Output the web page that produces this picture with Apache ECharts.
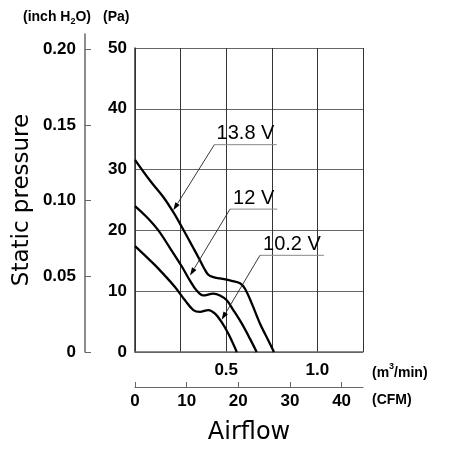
<!DOCTYPE html>
<html><head><meta charset="utf-8">
<script src="https://cdn.jsdelivr.net/npm/echarts@6/dist/echarts.min.js"></script>
<style>html,body{margin:0;padding:0;background:#fff}#c{width:451px;height:450px}</style>
</head><body><div id="c"></div>
<script>
// ---- data (airflow in m3/min, static pressure in Pa) ----
const flow138 = [0, 0.082, 0.155, 0.210, 0.256, 0.311, 0.356, 0.380, 0.402, 0.430, 0.466, 0.530, 0.576, 0.603, 0.640, 0.685, 0.731, 0.762];
const pres138 = [31.6, 28.2, 25.5, 23.0, 20.6, 17.6, 15.1, 13.7, 12.7, 12.3, 12.1, 11.7, 11.3, 10.4, 8.0, 4.7, 1.9, 0];
const flow120 = [0, 0.064, 0.128, 0.192, 0.256, 0.302, 0.338, 0.374, 0.429, 0.466, 0.503, 0.539, 0.585, 0.630, 0.667];
const pres120 = [24.0, 22.2, 20.0, 17.1, 14.1, 11.7, 10.1, 9.3, 9.6, 9.3, 8.5, 6.9, 4.7, 2.2, 0];
const flow102 = [0, 0.064, 0.119, 0.219, 0.274, 0.320, 0.356, 0.402, 0.439, 0.475, 0.512, 0.558];
const pres102 = [17.4, 15.6, 14.0, 10.7, 8.5, 6.9, 6.6, 6.9, 6.3, 4.9, 3.0, 0];

const seriesNames = ['13.8 V', '12 V', '10.2 V'];
// annotation: arrow tip on curve [flow, Pa], underline [flowStart, flowEnd, Pa]
const annTip = [[0.210, 23.3], [0.302, 12.6], [0.475, 5.3]];
const annUnderline = [[0.435, 0.777, 34.1], [0.521, 0.780, 23.5], [0.685, 1.036, 15.9]];

const m3Ticks = [0.5, 1.0];
const cfmTicks = [0, 10, 20, 30, 40];
const paTicks = [0, 10, 20, 30, 40, 50];
const inchTicks = [0, 0.05, 0.10, 0.15, 0.20];

const M3_TO_CFM = 35.3147;
const PA_PER_INCH = 249.089;

// ---- layout ----
const G = {left: 135, top: 48, width: 228, height: 304};
const inchTop = 34;
const inchMax = (G.top + G.height - inchTop) / G.height * 50 / PA_PER_INCH;

const tickFont = {fontFamily: "'Liberation Sans', Arial, sans-serif", fontWeight: 'bold', fontSize: 17, color: '#000'};
const gridCol = '#666';
const unitFont = "bold 14px 'Liberation Sans', Arial, sans-serif";

function zip(a, b) { return a.map((v, i) => [v, b[i]]); }

const lineStyle = {color: '#000', width: 2.3};

const chart = echarts.init(document.getElementById('c'), null, {renderer: 'canvas'});
chart.setOption({
  animation: false,
  backgroundColor: '#fff',
  grid: [
    {left: G.left, top: G.top, width: G.width, height: G.height},
    {left: 85, top: inchTop, width: 10, height: G.top + G.height - inchTop}
  ],
  xAxis: [
    {
      type: 'value', gridIndex: 0, min: 0, max: 1.25, interval: 0.25,
      axisLine: {show: true, lineStyle: {color: gridCol, width: 1.5}},
      axisTick: {show: false},
      axisLabel: Object.assign({customValues: m3Ticks, margin: 10, formatter: v => v.toFixed(1)}, tickFont),
      splitLine: {show: true, lineStyle: {color: '#333', width: 1}}
    },
    {
      type: 'value', gridIndex: 0, min: 0, max: 1.25 * M3_TO_CFM, position: 'bottom', offset: 35,
      axisLine: {show: true, lineStyle: {color: gridCol, width: 1}},
      axisTick: {show: true, inside: true, length: 5, customValues: cfmTicks, lineStyle: {color: gridCol}},
      axisLabel: Object.assign({customValues: cfmTicks, margin: 6}, tickFont),
      splitLine: {show: false},
      name: 'Airflow', nameLocation: 'middle', nameGap: 34,
      nameTextStyle: {fontFamily: 'DejaVu Sans', fontSize: 24, color: '#000'}
    },
    {type: 'value', gridIndex: 1, show: false, min: 0, max: 1}
  ],
  yAxis: [
    {
      type: 'value', gridIndex: 0, min: 0, max: 50, interval: 10,
      axisLine: {show: true, lineStyle: {color: '#333', width: 1.5}},
      axisTick: {show: false},
      axisLabel: Object.assign({customValues: paTicks, margin: 8}, tickFont),
      splitLine: {show: true, lineStyle: {color: gridCol, width: 1}},
      name: 'Static pressure', nameLocation: 'middle', nameRotate: 90, nameGap: 101,
      nameTextStyle: {fontFamily: 'DejaVu Sans', fontSize: 23, color: '#000'}
    },
    {
      type: 'value', gridIndex: 1, min: 0, max: inchMax,
      axisLine: {show: true, lineStyle: {color: gridCol, width: 1.5}},
      axisTick: {show: true, inside: true, length: 6, customValues: inchTicks, lineStyle: {color: gridCol}},
      axisLabel: Object.assign({customValues: inchTicks, margin: 9, formatter: v => v === 0 ? '0' : v.toFixed(2)}, tickFont),
      splitLine: {show: false}
    }
  ],
  graphic: [
    {type: 'text', left: 23, top: 10, style: {
      text: '(inch H{s|2}O)', fill: '#000', font: unitFont,
      rich: {s: {fontSize: 9, fontWeight: 'bold', fontFamily: 'Liberation Sans', verticalAlign: 'bottom', padding: [0, 0, -2, 0]}}
    }},
    {type: 'text', left: 103, top: 10, style: {text: '(Pa)', fill: '#000', font: unitFont}},
    {type: 'text', left: 372, top: 362, style: {
      text: '(m{p|3}/min)', fill: '#000', font: unitFont,
      rich: {p: {fontSize: 9, fontWeight: 'bold', fontFamily: 'Liberation Sans', verticalAlign: 'top', padding: [-4, 0, 0, 0]}}
    }},
    {type: 'text', left: 372, top: 393, style: {text: '(CFM)', fill: '#000', font: unitFont}}
  ],
  series: [
    {name: seriesNames[0], type: 'line', xAxisIndex: 0, yAxisIndex: 0, data: zip(flow138, pres138), smooth: 0.35, showSymbol: false, lineStyle: lineStyle},
    {name: seriesNames[1], type: 'line', xAxisIndex: 0, yAxisIndex: 0, data: zip(flow120, pres120), smooth: 0.35, showSymbol: false, lineStyle: lineStyle},
    {name: seriesNames[2], type: 'line', xAxisIndex: 0, yAxisIndex: 0, data: zip(flow102, pres102), smooth: 0.35, showSymbol: false, lineStyle: lineStyle},
    {
      type: 'custom', xAxisIndex: 0, yAxisIndex: 0, z: 5,
      data: annUnderline.map(u => [u[0], u[2]]),
      renderItem: function (params, api) {
        const i = params.dataIndex;
        const u = annUnderline[i];
        const p1 = api.coord([u[0], u[2]]);
        const p2 = api.coord([u[1], u[2]]);
        const tip = api.coord(annTip[i]);
        const dx = p1[0] - tip[0], dy = p1[1] - tip[1];
        const len = Math.sqrt(dx * dx + dy * dy);
        const ux = dx / len, uy = dy / len;
        const aL = 8, aW = 2.6;
        const bx = tip[0] + ux * aL, by = tip[1] + uy * aL;
        return {
          type: 'group',
          children: [
            {type: 'line', shape: {x1: p1[0], y1: p1[1], x2: p2[0], y2: p2[1]}, style: {stroke: '#888', lineWidth: 1}},
            {type: 'line', shape: {x1: p1[0], y1: p1[1], x2: bx, y2: by}, style: {stroke: '#222', lineWidth: 0.9}},
            {type: 'polygon', shape: {points: [[tip[0], tip[1]], [bx - uy * aW, by + ux * aW], [bx + uy * aW, by - ux * aW]]}, style: {fill: '#000'}},
            {type: 'text', x: (p1[0] + p2[0]) / 2, y: p1[1] - 1, style: {
              text: seriesNames[i], fill: '#000', align: 'center', verticalAlign: 'bottom',
              font: "20px 'Liberation Sans', Arial, sans-serif"
            }}
          ]
        };
      }
    }
  ]
});
</script>
</body></html>
